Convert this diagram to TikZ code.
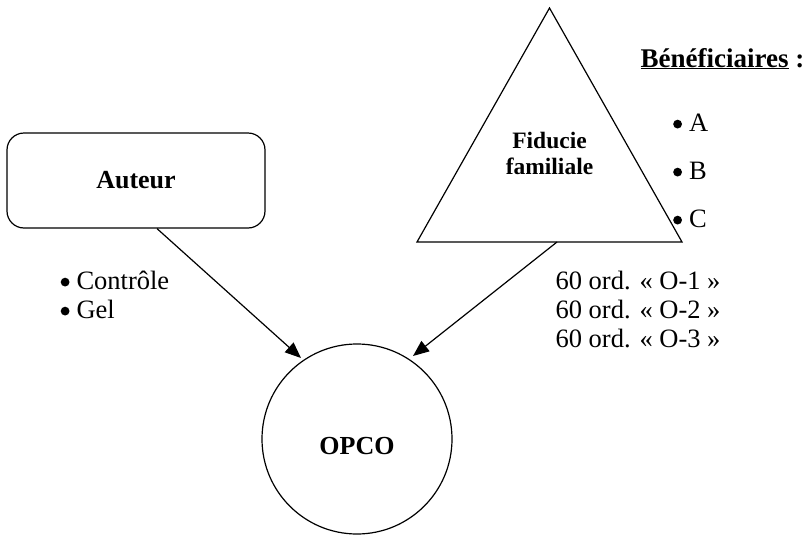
\documentclass[tikz,border=0pt]{standalone}
\usepackage{fontspec}
\setmainfont{Liberation Serif}
\usetikzlibrary{arrows.meta}
% round list bullet, sitting slightly above the baseline
\newcommand{\bulletdot}{\raisebox{2.5pt}{\tikz\fill (0pt,0pt) circle (4.4pt);}\hspace{7pt}}
\begin{document}
\begin{tikzpicture}[x=1pt,y=-1pt,
  line width=1.2pt,
  lbl/.style={inner sep=0pt, anchor=base west, font=\fontsize{26.5}{29}\selectfont},
  heading/.style={inner sep=0pt, font=\fontsize{26}{29}\selectfont\bfseries},
  link/.style={-{Triangle[length=16pt,width=13pt]}, line width=1.2pt}]
\useasboundingbox (0,0) rectangle (807,536);

% Author box
\node[draw, rounded corners=17pt, minimum width=258pt, minimum height=95pt,
      heading] (auteur) at (136,180.5) {Auteur};

% Family trust triangle
\coordinate (apex) at (549.5,8);
\coordinate (baseR) at (682,242);
\coordinate (baseL) at (417,242);
\draw[line join=miter] (apex) -- (baseR) -- (baseL) -- cycle;
\node[heading, align=center, font=\fontsize{23.5}{26}\selectfont\bfseries]
      (fiducie) at (549.5,153) {Fiducie\\familiale};

% OPCO circle
\node[draw, circle, minimum size=190pt, inner sep=0pt] (opco) at (357,439) {};
\node[heading] (opcotxt) at (357,446.5) {OPCO};

% Beneficiaries
\node[lbl, font=\fontsize{27}{29}\selectfont\bfseries] (benef) at (640,67)
      {\underline{Bénéficiaires} :};
\node[lbl] (bA) at (673,131) {\bulletdot A};
\node[lbl] (bB) at (673,179) {\bulletdot B};
\node[lbl] (bC) at (673,227) {\bulletdot C};

% Rights held by the author
\node[lbl] (ctrl) at (60.5,289) {\bulletdot Contrôle};
\node[lbl] (gel) at (60.5,318) {\bulletdot Gel};

% Shares held by the trust
\node[lbl] (o1) at (555,289) {60 ord. « O-1 »};
\node[lbl] (o2) at (555,318) {60 ord. « O-2 »};
\node[lbl] (o3) at (555,347) {60 ord. « O-3 »};

% Connectors
\coordinate (tipL) at (301,358);
\coordinate (tipR) at (413,356);
\draw[link] ([xshift=21pt]auteur.south) -- (tipL);
\draw[link] ([xshift=7.5pt]baseL -| apex) -- (tipR);
\end{tikzpicture}
\end{document}
